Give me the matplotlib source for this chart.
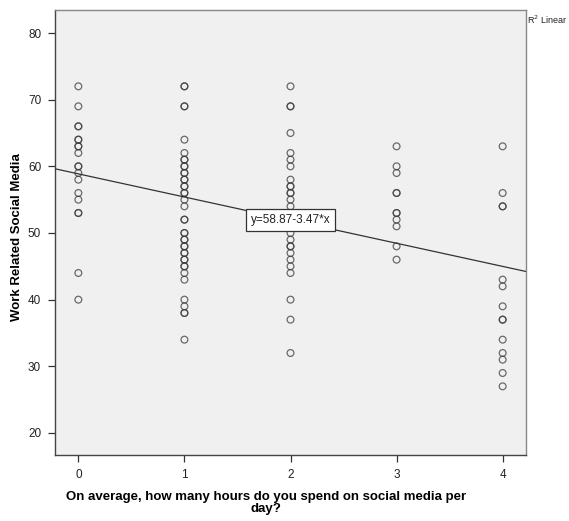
import numpy as np
import matplotlib
matplotlib.use("Agg")
import matplotlib.pyplot as plt

plt.rcParams['font.family'] = ['Liberation Sans', 'DejaVu Sans']

# hours per day on social media (x) and work related social media score (y)
hours0 = [72, 69, 66, 66, 64, 64, 63, 63, 62, 60, 60, 59, 58, 56, 55, 53, 53, 44, 40]
hours1 = [72, 72, 69, 69, 64, 62, 61, 61, 60, 60, 59, 59, 58, 58, 57, 57, 56, 56, 55, 54,
          52, 52, 50, 50, 49, 49, 48, 48, 47, 47, 46, 46, 45, 45, 44, 43, 40, 39, 38, 38, 34]
hours2 = [72, 69, 69, 65, 62, 61, 60, 58, 57, 57, 56, 56, 55, 54, 53, 52, 51, 50, 49,
          48, 48, 47, 46, 45, 44, 40, 37, 32]
hours3 = [63, 60, 59, 56, 56, 53, 53, 52, 51, 48, 46]
hours4 = [63, 56, 54, 54, 43, 42, 39, 37, 37, 34, 32, 31, 29, 27]
groups = [hours0, hours1, hours2, hours3, hours4]

intercept = 58.87
slope = -3.47
xticks = [0, 1, 2, 3, 4]
yticks = [20, 30, 40, 50, 60, 70, 80]

fig = plt.figure(figsize=(5.69, 5.21), dpi=100)
ax = fig.add_axes([0.0967, 0.1267, 0.8277, 0.8541])
ax.set_facecolor('#f0f0f0')

xs = []
ys = []
for h, vals in enumerate(groups):
    xs += [h] * len(vals)
    ys += vals
ax.scatter(xs, ys, s=24, facecolors='none', edgecolors='#3c3c3c', linewidths=0.9,
           alpha=0.75, zorder=3)

xlim = (-0.22, 4.22)
ax.set_xlim(xlim)
ax.set_ylim(16.7, 83.45)
lx = np.array(xlim)
ax.plot(lx, intercept + slope * lx, color='#333333', lw=0.9, zorder=4)

ax.text(2, intercept + slope * 2, 'y=%.2f%.2f*x' % (intercept, slope), ha='center',
        va='center', fontsize=8.5, color='#222222', zorder=5,
        bbox=dict(boxstyle='square,pad=0.4', fc='white', ec='#333333', lw=0.9))

ax.set_xticks(xticks)
ax.set_yticks(yticks)
ax.tick_params(axis='both', direction='out', length=5, width=0.9, color='#333333',
               labelsize=8.5, labelcolor='#222222', pad=5)
ax.tick_params(top=False, right=False)
for side in ['top', 'right']:
    ax.spines[side].set_color('#888888')
for side in ['left', 'bottom']:
    ax.spines[side].set_color('#444444')
for sp in ax.spines.values():
    sp.set_linewidth(1.0)

ax.set_xlabel('On average, how many hours do you spend on social media per\nday?',
              fontsize=9.5, fontweight='bold', linespacing=0.95)
ax.xaxis.set_label_coords(0.448, -0.082)
ax.set_ylabel('Work Related Social Media', fontsize=9.5, fontweight='bold')
ax.yaxis.set_label_coords(-0.068, 0.49)

fig.text(0.926, 0.962, 'R$^2$ Linear', fontsize=6.5, color='#222222', va='center')

fig.savefig('out.png', dpi=100)
